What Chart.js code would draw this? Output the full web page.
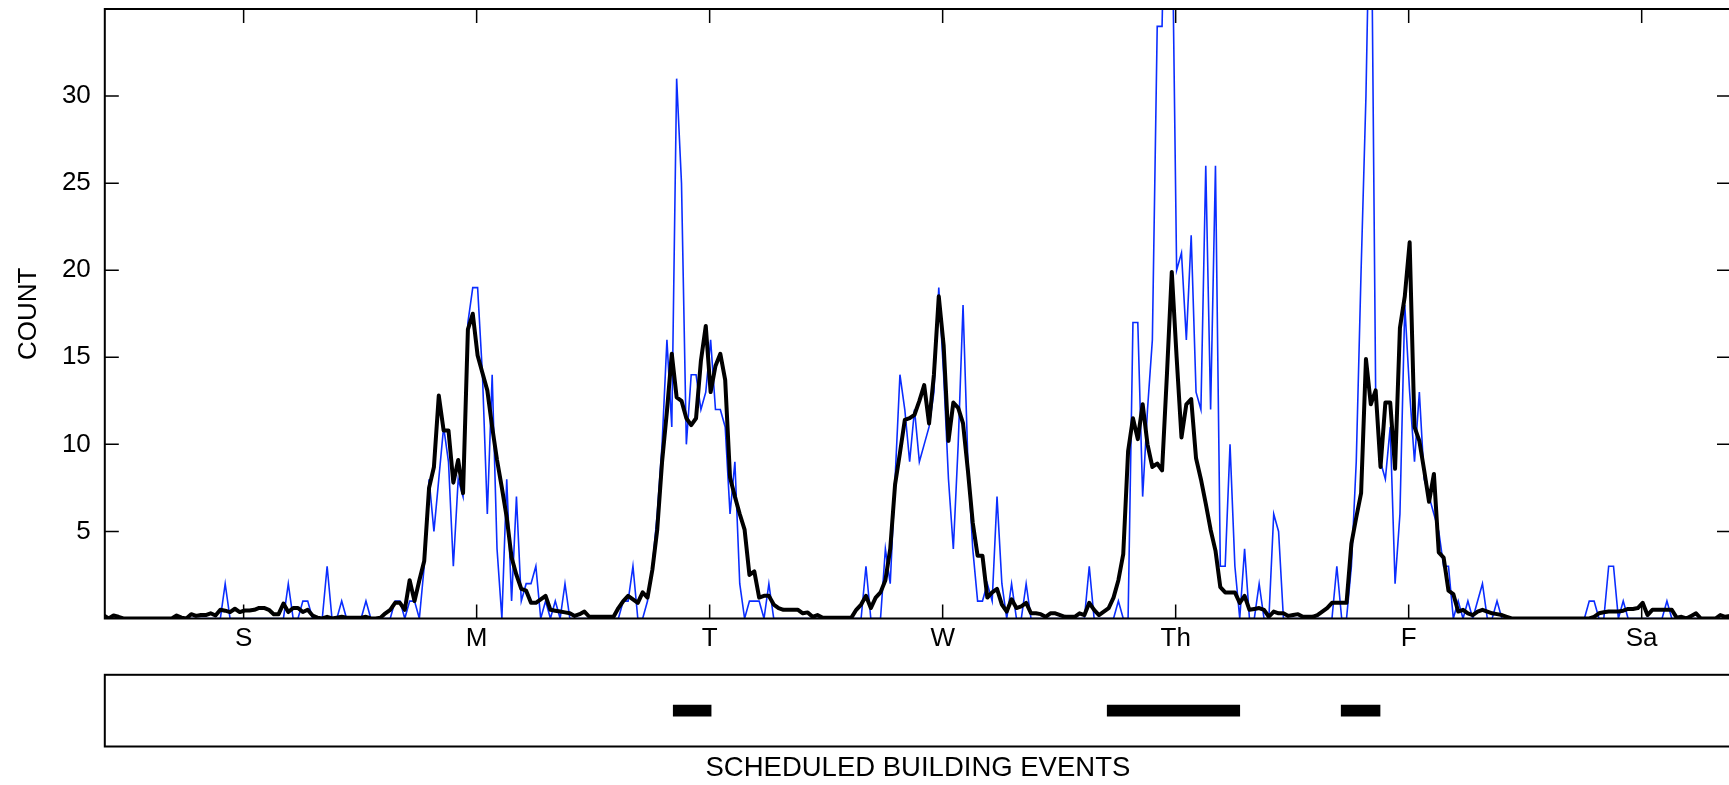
<!DOCTYPE html>
<html>
<head>
<meta charset="utf-8">
<script src="https://cdn.jsdelivr.net/npm/chart.js@4"></script>
<style>
  html, body { margin: 0; padding: 0; background: #fff; overflow: hidden; }
  #wrap { position: relative; width: 1729px; height: 785px; overflow: hidden; }
  canvas { position: absolute; left: 0; }
  #mainChart { top: 0; }
  #eventChart { top: 660px; }
</style>
</head>
<body>
<div id="wrap">
  <canvas id="mainChart" width="1732" height="660"></canvas>
  <canvas id="eventChart" width="1732" height="125"></canvas>
</div>
<script>
// half-hour bins over one week (index 0..335)
const rawCounts = [
  // 0-47
  0,0,0,0,0,0,0,0,0,0,0,0,
  0,0,0,0,0,0,0,0,0,0,0,0,
  0,2,0,0,0,0,0,0,0,0,0,0,
  0,0,2,0,0,1,1,0,0,0,3,0,
  // 48-95
  0,1,0,0,0,0,1,0,0,0,0,0,
  1,1,0,1,1,0,3,8,5,8,11,9,
  3,8,7,17,19,19,14,6,14,4,0,8,
  1,7,1,2,2,3,0,1,0,1,0,2,
  // 96-143
  0,0,0,0,0,0,0,0,0,0,0,1,
  1,3,0,0,1,3,6,10,16,11,31,25,
  10,14,14,12,13,16,12,12,11,6,9,2,
  0,1,1,1,0,2,0,0,0,0,0,0,
  // 144-191
  0,0,0,0,0,0,0,0,0,0,0,0,
  0,3,0,0,0,4,2,8,14,12,9,12,
  9,10,11,13,19,14,8,4,10,18,9,4,
  1,1,2,1,7,2,0,2,0,0,2,0,
  // 192-239
  0,0,0,0,0,0,0,0,0,0,0,3,
  0,0,0,0,0,1,0,0,17,17,7,12,
  16,34,34,48,42,20,21,16,22,13,12,26,
  12,26,3,3,10,3,0,4,0,0,2,0,
  // 240-287
  0,6,5,0,0,0,0,0,0,0,0,0,
  0,0,3,0,0,3,9,20,30,45,13,9,
  8,11,2,6,18,13,9,13,8,7,6,5,
  3,3,0,1,0,1,0,1,2,0,0,1,
  // 288-335
  0,0,0,0,0,0,0,0,0,0,0,0,
  0,0,0,0,0,0,1,1,0,0,3,3,
  0,1,0,0,0,0,0,0,0,0,1,0,
  0,0,0,0,0,0,0,0,0,0,0,0
];

const smoothCounts = [
  // 0-47
  0.17,0,0.17,0.1,0,0,0,0,0,0,0,0,
  0,0,0,0.17,0.05,0,0.25,0.15,0.2,0.2,0.3,0.17,
  0.5,0.45,0.37,0.56,0.37,0.46,0.46,0.5,0.61,0.61,0.5,0.25,
  0.25,0.86,0.37,0.6,0.6,0.37,0.5,0.17,0.05,0,0.1,0,
  // 48-95
  0.05,0.1,0.05,0.05,0.05,0.05,0.1,0,0,0.05,0.3,0.5,
  0.9,0.9,0.5,2.2,1.0,2.2,3.3,7.5,8.7,12.8,10.8,10.8,
  7.8,9.1,7.2,16.6,17.5,15.1,14.1,13.1,11.0,9.1,7.5,5.8,
  3.5,2.5,1.7,1.6,0.9,0.9,1.1,1.3,0.5,0.45,0.4,0.35,
  // 96-143
  0.3,0.15,0.25,0.4,0.1,0.1,0.1,0.1,0.1,0.1,0.6,1.0,
  1.3,1.1,0.9,1.5,1.2,2.8,5.1,9.0,11.9,15.2,12.7,12.5,
  11.5,11.1,11.5,14.8,16.8,13.0,14.5,15.2,13.7,8.1,7.0,6.0,
  5.1,2.5,2.7,1.2,1.3,1.3,0.8,0.6,0.5,0.5,0.5,0.5,
  // 144-191
  0.3,0.35,0.1,0.2,0.05,0.05,0.05,0.05,0.05,0.05,0.05,0.5,
  0.8,1.3,0.6,1.2,1.5,2.2,4.0,7.7,9.5,11.4,11.5,11.7,
  12.5,13.4,11.2,14.0,18.5,15.7,10.2,12.4,12.1,11.2,8.5,5.5,
  3.6,3.6,1.2,1.5,1.7,0.8,0.4,1.1,0.6,0.7,0.9,0.3,
  // 192-239
  0.3,0.25,0.1,0.3,0.3,0.2,0.1,0.1,0.1,0.3,0.2,0.9,
  0.5,0.2,0.4,0.6,1.2,2.2,3.7,9.6,11.5,10.3,12.3,10.0,
  8.7,8.9,8.5,14.0,19.9,15.0,10.4,12.3,12.6,9.2,8.0,6.6,
  5.1,3.9,1.8,1.5,1.5,1.5,0.9,1.3,0.5,0.55,0.6,0.5,
  // 240-287
  0.1,0.4,0.3,0.3,0.15,0.2,0.25,0.1,0.1,0.1,0.2,0.4,
  0.6,0.9,0.9,0.9,0.9,4.3,5.8,7.2,14.9,12.3,13.1,8.7,
  12.4,12.4,8.6,16.7,18.5,21.6,11.0,10.2,8.5,6.7,8.3,3.8,
  3.5,1.6,1.4,0.4,0.5,0.3,0.2,0.4,0.5,0.4,0.3,0.25,
  // 288-335
  0.2,0.1,0,0,0,0,0,0,0,0,0,0,
  0,0,0,0,0,0,0,0.1,0.3,0.36,0.4,0.4,
  0.4,0.45,0.55,0.55,0.6,0.9,0.2,0.5,0.5,0.5,0.5,0.5,
  0.05,0.1,0,0.15,0.3,0,0,0,0,0.2,0.1,0.15
];

const dayLabels = ['S', 'M', 'T', 'W', 'Th', 'F', 'Sa'];
const dayTickPos = [28.8, 76.8, 124.8, 172.8, 220.8, 268.8, 316.8];
const countTicks = [5, 10, 15, 20, 25, 30];

// scheduled events, start/end in the same half-hour bins
const eventStart = [117.3, 206.7, 254.9];
const eventEnd = [125.1, 234.0, 262.9];

const X_MIN = 0.2;
const X_MAX = 335.2;

Chart.defaults.font.family = "'Liberation Sans', Arial, sans-serif";
Chart.defaults.font.size = 26;
Chart.defaults.color = '#000';

const framePlugin = {
    id: 'frame',
    afterDatasetsDraw(chart, args, opts) {
        const {ctx, chartArea: a, scales} = chart;
        ctx.save();
        ctx.strokeStyle = '#000';
        if (opts.ticks) {
            const len = 14;
            ctx.lineWidth = 1.5;
            ctx.beginPath();
            scales.x.ticks.forEach(t => {
                const px = scales.x.getPixelForValue(t.value);
                ctx.moveTo(px, a.bottom); ctx.lineTo(px, a.bottom - len);
                ctx.moveTo(px, a.top); ctx.lineTo(px, a.top + len);
            });
            scales.y.ticks.forEach(t => {
                const py = scales.y.getPixelForValue(t.value);
                ctx.moveTo(a.left, py); ctx.lineTo(a.left + len, py);
                ctx.moveTo(a.right, py); ctx.lineTo(a.right - len, py);
            });
            ctx.stroke();
        }
        ctx.lineWidth = 2;
        ctx.strokeRect(a.left, a.top, a.right - a.left, a.bottom - a.top);
        ctx.restore();
    }
};

const toPoints = arr => arr.map((v, i) => ({x: i, y: v}));

new Chart(document.getElementById('mainChart').getContext('2d'), {
    type: 'line',
    data: {
        datasets: [{
            data: toPoints(smoothCounts),
            borderColor: '#000',
            borderWidth: 4,
            pointRadius: 0,
            tension: 0,
            borderJoinStyle: 'round'
        }, {
            data: toPoints(rawCounts),
            borderColor: 'rgb(10, 45, 255)',
            borderWidth: 1.6,
            pointRadius: 0,
            tension: 0
        }]
    },
    plugins: [framePlugin],
    options: {
        responsive: false,
        animation: false,
        events: [],
        layout: { padding: { top: 9, right: 1, left: 0, bottom: 0 } },
        plugins: {
            legend: { display: false },
            tooltip: { enabled: false },
            frame: { ticks: true }
        },
        scales: {
            x: {
                type: 'linear',
                min: X_MIN,
                max: X_MAX,
                grid: { display: false, drawTicks: false },
                border: { display: false },
                afterBuildTicks: s => { s.ticks = dayTickPos.map(v => ({value: v})); },
                afterFit: s => { s.height = 41.5; s.paddingLeft = 0; s.paddingRight = 0; },
                ticks: {
                    autoSkip: false,
                    maxRotation: 0,
                    padding: 5,
                    callback: (v, i) => dayLabels[i]
                }
            },
            y: {
                min: 0,
                max: 35,
                grid: { display: false, drawTicks: false },
                border: { display: false },
                afterBuildTicks: s => { s.ticks = countTicks.map(v => ({value: v})); },
                afterFit: s => { s.width = 104.8; s.paddingTop = 0; s.paddingBottom = 0; },
                ticks: { padding: 14, callback: v => String(v) },
                title: { display: true, text: 'COUNT', padding: { top: 13, bottom: 0 } }
            }
        }
    }
});

new Chart(document.getElementById('eventChart').getContext('2d'), {
    type: 'bar',
    data: {
        labels: ['events'],
        datasets: eventStart.map((s, i) => ({
            data: [[s, eventEnd[i]]],
            backgroundColor: '#000',
            barThickness: 11,
            grouped: false
        }))
    },
    plugins: [framePlugin],
    options: {
        indexAxis: 'y',
        responsive: false,
        animation: false,
        events: [],
        layout: { padding: { top: 14.8, right: 1, left: 104.8, bottom: 0 } },
        plugins: {
            legend: { display: false },
            tooltip: { enabled: false },
            frame: { ticks: false }
        },
        scales: {
            x: {
                type: 'linear',
                min: X_MIN,
                max: X_MAX,
                grid: { display: false, drawTicks: false },
                border: { display: false },
                ticks: { display: false },
                afterFit: s => { s.height = 38.5; },
                title: {
                    display: true,
                    text: 'SCHEDULED BUILDING EVENTS',
                    font: { size: 27.5 },
                    padding: { top: 0, bottom: 0 }
                }
            },
            y: { display: false }
        }
    }
});
</script>
</body>
</html>
